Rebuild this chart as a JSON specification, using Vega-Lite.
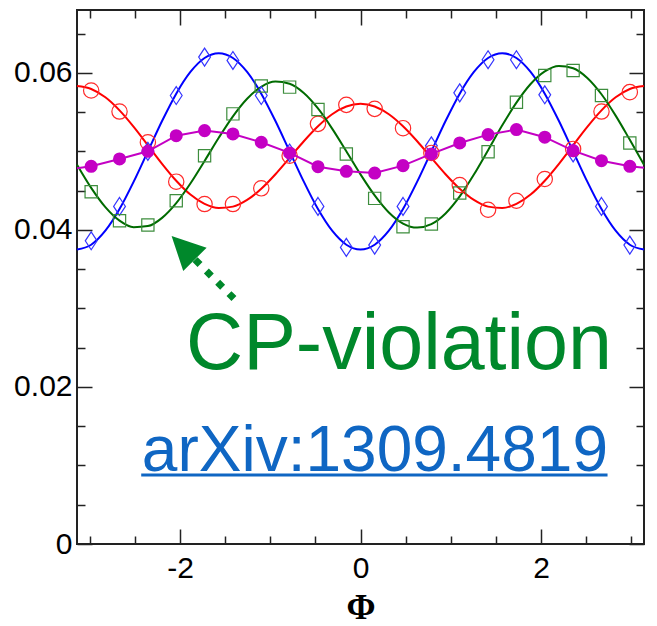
{
  "$schema": "https://vega.github.io/schema/vega-lite/v6.json",
  "width": 567,
  "height": 534,
  "autosize": {"type": "none"},
  "padding": {"left": 77, "top": 10, "right": 13, "bottom": 82},
  "background": "white",
  "config": {
    "view": {"stroke": "#222", "strokeWidth": 2},
    "font": "Liberation Sans"
  },
  "datasets": {
    "curves": [
      {"x": -3.1416, "blue": 0.0375, "red": 0.05831, "green": 0.04830},
      {"x": -2.9845, "blue": 0.03811, "red": 0.05794, "green": 0.04535},
      {"x": -2.8274, "blue": 0.03989, "red": 0.05688, "green": 0.04290},
      {"x": -2.6704, "blue": 0.04265, "red": 0.05522, "green": 0.04118},
      {"x": -2.5133, "blue": 0.04614, "red": 0.05312, "green": 0.04035},
      {"x": -2.3562, "blue": 0.05, "red": 0.05078, "green": 0.04048},
      {"x": -2.1991, "blue": 0.05386, "red": 0.04842, "green": 0.04153},
      {"x": -2.0420, "blue": 0.05735, "red": 0.04626, "green": 0.04341},
      {"x": -1.8850, "blue": 0.06011, "red": 0.04450, "green": 0.04591},
      {"x": -1.7279, "blue": 0.06189, "red": 0.04331, "green": 0.04878},
      {"x": -1.5708, "blue": 0.0625, "red": 0.04278, "green": 0.05173},
      {"x": -1.4137, "blue": 0.06189, "red": 0.04296, "green": 0.05446},
      {"x": -1.2566, "blue": 0.06011, "red": 0.04381, "green": 0.05670},
      {"x": -1.0996, "blue": 0.05735, "red": 0.04524, "green": 0.05822},
      {"x": -0.9425, "blue": 0.05386, "red": 0.04709, "green": 0.05888},
      {"x": -0.7854, "blue": 0.05, "red": 0.04918, "green": 0.05861},
      {"x": -0.6283, "blue": 0.04614, "red": 0.05129, "green": 0.05743},
      {"x": -0.4712, "blue": 0.04265, "red": 0.05320, "green": 0.05546},
      {"x": -0.3142, "blue": 0.03989, "red": 0.05473, "green": 0.05290},
      {"x": -0.1571, "blue": 0.03811, "red": 0.05571, "green": 0.05001},
      {"x": 0, "blue": 0.0375, "red": 0.05605, "green": 0.04707},
      {"x": 0.1571, "blue": 0.03811, "red": 0.05571, "green": 0.04439},
      {"x": 0.3142, "blue": 0.03989, "red": 0.05473, "green": 0.04222},
      {"x": 0.4712, "blue": 0.04265, "red": 0.05320, "green": 0.04081},
      {"x": 0.6283, "blue": 0.04614, "red": 0.05129, "green": 0.04029},
      {"x": 0.7854, "blue": 0.05, "red": 0.04918, "green": 0.04073},
      {"x": 0.9425, "blue": 0.05386, "red": 0.04709, "green": 0.04209},
      {"x": 1.0996, "blue": 0.05735, "red": 0.04524, "green": 0.04426},
      {"x": 1.2566, "blue": 0.06011, "red": 0.04381, "green": 0.04704},
      {"x": 1.4137, "blue": 0.06189, "red": 0.04296, "green": 0.05015},
      {"x": 1.5708, "blue": 0.0625, "red": 0.04278, "green": 0.05331},
      {"x": 1.7279, "blue": 0.06189, "red": 0.04331, "green": 0.05621},
      {"x": 1.8850, "blue": 0.06011, "red": 0.04450, "green": 0.05858},
      {"x": 2.0420, "blue": 0.05735, "red": 0.04626, "green": 0.06019},
      {"x": 2.1991, "blue": 0.05386, "red": 0.04842, "green": 0.06088},
      {"x": 2.3562, "blue": 0.05, "red": 0.05078, "green": 0.06059},
      {"x": 2.5133, "blue": 0.04614, "red": 0.05312, "green": 0.05935},
      {"x": 2.6704, "blue": 0.04265, "red": 0.05522, "green": 0.05727},
      {"x": 2.8274, "blue": 0.03989, "red": 0.05688, "green": 0.05455},
      {"x": 2.9845, "blue": 0.03811, "red": 0.05794, "green": 0.05147},
      {"x": 3.1416, "blue": 0.0375, "red": 0.05831, "green": 0.04830}
    ],
    "markers": [
      {"x": -2.9845, "blue": 0.03861, "red": 0.05775, "green": 0.04486},
      {"x": -2.6704, "blue": 0.04299, "red": 0.05507, "green": 0.04116},
      {"x": -2.3562, "blue": 0.0500, "red": 0.05116, "green": 0.04061},
      {"x": -2.0420, "blue": 0.05711, "red": 0.04614, "green": 0.04371},
      {"x": -1.7279, "blue": 0.06200, "red": 0.04329, "green": 0.04945},
      {"x": -1.4137, "blue": 0.06158, "red": 0.04329, "green": 0.05477},
      {"x": -1.0996, "blue": 0.05711, "red": 0.04529, "green": 0.05831},
      {"x": -0.7854, "blue": 0.0498, "red": 0.04945, "green": 0.05818},
      {"x": -0.4712, "blue": 0.04299, "red": 0.05350, "green": 0.05532},
      {"x": -0.1571, "blue": 0.03777, "red": 0.05592, "green": 0.04967},
      {"x": 0.1571, "blue": 0.03806, "red": 0.05541, "green": 0.04401},
      {"x": 0.4712, "blue": 0.04299, "red": 0.05295, "green": 0.04039},
      {"x": 0.7854, "blue": 0.0507, "red": 0.0498, "green": 0.04074},
      {"x": 1.0996, "blue": 0.05745, "red": 0.04571, "green": 0.04469},
      {"x": 1.4137, "blue": 0.06167, "red": 0.04256, "green": 0.04996},
      {"x": 1.7279, "blue": 0.06167, "red": 0.04371, "green": 0.05626},
      {"x": 2.0420, "blue": 0.05720, "red": 0.04648, "green": 0.05966},
      {"x": 2.3562, "blue": 0.0498, "red": 0.05031, "green": 0.06030},
      {"x": 2.6704, "blue": 0.04299, "red": 0.05507, "green": 0.05711},
      {"x": 2.9845, "blue": 0.03806, "red": 0.05754, "green": 0.05107}
    ],
    "magenta": [
      {"x": -3.1416, "y": 0.04784},
      {"x": -2.9845, "y": 0.04810},
      {"x": -2.6704, "y": 0.04903},
      {"x": -2.3562, "y": 0.05001},
      {"x": -2.0420, "y": 0.05200},
      {"x": -1.7279, "y": 0.05264},
      {"x": -1.4137, "y": 0.05222},
      {"x": -1.0996, "y": 0.05116},
      {"x": -0.7854, "y": 0.04980},
      {"x": -0.4712, "y": 0.04805},
      {"x": -0.1571, "y": 0.04746},
      {"x": 0.1571, "y": 0.04724},
      {"x": 0.4712, "y": 0.04818},
      {"x": 0.7854, "y": 0.04967},
      {"x": 1.0996, "y": 0.05107},
      {"x": 1.4137, "y": 0.05213},
      {"x": 1.7279, "y": 0.05277},
      {"x": 2.0420, "y": 0.05180},
      {"x": 2.3562, "y": 0.05009},
      {"x": 2.6704, "y": 0.04881},
      {"x": 2.9845, "y": 0.04810},
      {"x": 3.1416, "y": 0.04790}
    ],
    "one": [{}]
  },
  "resolve": {"axis": {"x": "independent", "y": "independent"}},
  "layer": [
    {
      "data": {"name": "curves"},
      "transform": [{"fold": ["blue", "red", "green"], "as": ["series", "y"]}],
      "mark": {"type": "line", "strokeWidth": 2, "interpolate": "monotone"},
      "encoding": {
        "x": {
          "field": "x", "type": "quantitative",
          "scale": {"domain": [-3.1416, 3.1416], "nice": false, "zero": false},
          "axis": {
            "orient": "bottom",
            "values": [-3, -2.5, -2, -1.5, -1, -0.5, 0, 0.5, 1, 1.5, 2, 2.5, 3],
            "labelExpr": "datum.value === -2 ? '-2' : datum.value === 0 ? '0' : datum.value === 2 ? '2' : ''",
            "tickSize": {"condition": {"test": "datum.value % 2 === 0", "value": -15}, "value": -8},
            "tickColor": "#222", "tickWidth": 1.5,
            "domain": false, "grid": false,
            "labelFont": "Liberation Sans", "labelFontSize": 30, "labelColor": "#000",
            "labelPadding": 24,
            "title": "Φ", "titleFont": "Liberation Serif", "titleFontSize": 35,
            "titleFontWeight": "bold", "titleColor": "#000", "titlePadding": 7
          }
        },
        "y": {
          "field": "y", "type": "quantitative",
          "scale": {"domain": [0, 0.068], "nice": false, "zero": false},
          "axis": {
            "orient": "left",
            "values": [0, 0.005, 0.01, 0.015, 0.02, 0.025, 0.03, 0.035, 0.04, 0.045, 0.05, 0.055, 0.06, 0.065],
            "labelExpr": "round(datum.value*1000) % 20 === 0 ? (datum.value === 0 ? '0' : format(datum.value, '.2f')) : ''",
            "tickSize": {"condition": {"test": "round(datum.value*1000) % 20 === 0", "value": -15}, "value": -8},
            "tickColor": "#222", "tickWidth": 1.5,
            "domain": false, "grid": false,
            "labelFont": "Liberation Sans", "labelFontSize": 30, "labelColor": "#000",
            "labelPadding": 20,
            "title": null
          }
        },
        "color": {
          "field": "series", "type": "nominal", "legend": null,
          "scale": {"domain": ["blue", "red", "green"], "range": ["#0000ff", "#ff0000", "#006b00"]}
        },
        "detail": {"field": "series"}
      }
    },
    {
      "data": {"name": "markers"},
      "transform": [{"fold": ["blue", "red", "green"], "as": ["series", "y"]}],
      "mark": {"type": "point", "filled": false, "strokeWidth": 1.2, "opacity": 1},
      "encoding": {
        "x": {
          "field": "x", "type": "quantitative",
          "scale": {"domain": [-3.1416, 3.1416], "nice": false, "zero": false},
          "axis": {
            "orient": "top",
            "values": [-3, -2.5, -2, -1.5, -1, -0.5, 0, 0.5, 1, 1.5, 2, 2.5, 3],
            "labels": false,
            "tickSize": {"condition": {"test": "datum.value % 2 === 0", "value": -15}, "value": -8},
            "tickColor": "#222", "tickWidth": 1.5,
            "domain": false, "grid": false, "title": null
          }
        },
        "y": {
          "field": "y", "type": "quantitative",
          "scale": {"domain": [0, 0.068], "nice": false, "zero": false},
          "axis": {
            "orient": "right",
            "values": [0, 0.005, 0.01, 0.015, 0.02, 0.025, 0.03, 0.035, 0.04, 0.045, 0.05, 0.055, 0.06, 0.065],
            "labels": false,
            "tickSize": {"condition": {"test": "round(datum.value*1000) % 20 === 0", "value": -15}, "value": -8},
            "tickColor": "#222", "tickWidth": 1.5,
            "domain": false, "grid": false, "title": null
          }
        },
        "stroke": {
          "field": "series", "type": "nominal", "legend": null,
          "scale": {"domain": ["blue", "red", "green"], "range": ["#3535ff", "#ff2a2a", "#3d8d3d"]}
        },
        "shape": {
          "field": "series", "type": "nominal", "legend": null,
          "scale": {"domain": ["blue", "red", "green"], "range": ["M0,-1L0.66,0L0,1L-0.66,0Z", "circle", "square"]}
        },
        "size": {
          "field": "series", "type": "nominal", "legend": null,
          "scale": {"domain": ["blue", "red", "green"], "range": [320, 150, 205]}
        }
      }
    },
    {
      "data": {"name": "magenta"},
      "mark": {"type": "line", "strokeWidth": 2, "color": "#c400c4"},
      "encoding": {
        "x": {"field": "x", "type": "quantitative", "axis": null},
        "y": {"field": "y", "type": "quantitative", "axis": null}
      }
    },
    {
      "data": {"name": "magenta"},
      "transform": [{"filter": "abs(datum.x) < 3"}],
      "mark": {"type": "point", "filled": true, "size": 170, "opacity": 1, "color": "#c400c4"},
      "encoding": {
        "x": {"field": "x", "type": "quantitative", "axis": null},
        "y": {"field": "y", "type": "quantitative", "axis": null}
      }
    },
    {
      "data": {"name": "one"},
      "mark": {"type": "rule", "strokeWidth": 7, "strokeDash": [7, 9], "strokeCap": "butt", "color": "#00882b"},
      "encoding": {
        "x": {"datum": -1.8333, "type": "quantitative", "axis": null},
        "y": {"datum": 0.03621, "type": "quantitative", "axis": null},
        "x2": {"datum": -1.402},
        "y2": {"datum": 0.03125}
      }
    },
    {
      "data": {"name": "one"},
      "mark": {"type": "point", "shape": "M0,-1L1,1L-1,1Z", "size": 1089, "angle": 315, "filled": true, "opacity": 1, "color": "#00882b"},
      "encoding": {
        "x": {"datum": -1.964, "type": "quantitative", "axis": null},
        "y": {"datum": 0.03773, "type": "quantitative", "axis": null}
      }
    },
    {
      "data": {"name": "one"},
      "mark": {"type": "text", "text": "CP-violation", "font": "Liberation Sans", "fontSize": 79, "color": "#00882b", "align": "right", "baseline": "alphabetic"},
      "encoding": {
        "x": {"datum": 2.787, "type": "quantitative", "axis": null},
        "y": {"datum": 0.02224, "type": "quantitative", "axis": null}
      }
    },
    {
      "data": {"name": "one"},
      "mark": {"type": "text", "text": "arXiv:1309.4819", "font": "Liberation Sans", "fontSize": 64, "color": "#0f66c3", "align": "right", "baseline": "alphabetic"},
      "encoding": {
        "x": {"datum": 2.7426, "type": "quantitative", "axis": null},
        "y": {"datum": 0.009263, "type": "quantitative", "axis": null}
      }
    },
    {
      "data": {"name": "one"},
      "mark": {"type": "rule", "strokeWidth": 3, "color": "#0f66c3"},
      "encoding": {
        "x": {"datum": -2.43, "type": "quantitative", "axis": null},
        "x2": {"datum": 2.7376},
        "y": {"datum": 0.00878, "type": "quantitative", "axis": null}
      }
    }
  ]
}
